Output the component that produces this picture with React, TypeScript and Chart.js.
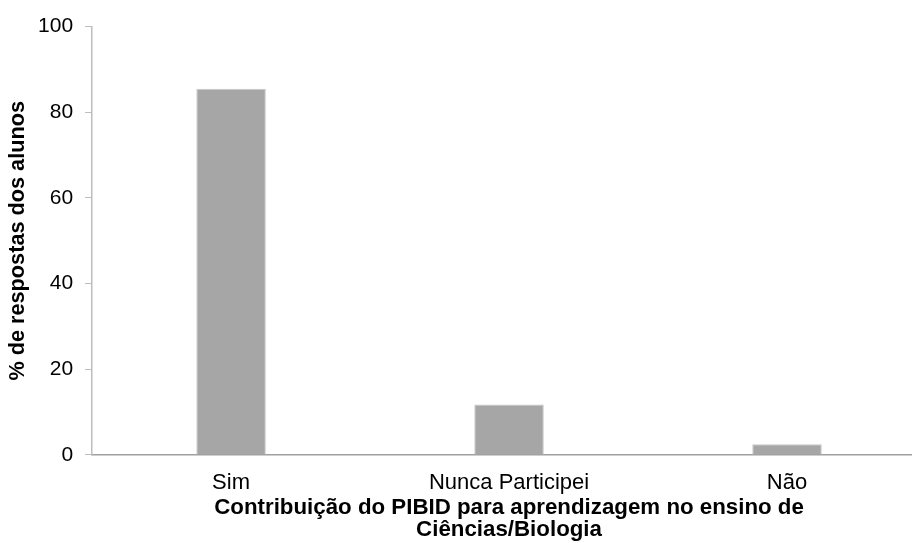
import React, { useEffect, useRef } from "react";
import { Chart, registerables } from "chart.js";

Chart.register(...registerables);

const categories = ["Sim", "Nunca Participei", "Não"];
const values = [85.5, 11.8, 2.5];
const yTicks = [0, 20, 40, 60, 80, 100];
const yTitle = "% de respostas dos alunos";
const xTitle = ["Contribuição do PIBID para aprendizagem no ensino de", "Ciências/Biologia"];

const adjustArea = {
  id: "adjustArea",
  afterLayout(chart: any) {
    const extraRight = 14;
    const extraTop = 2;
    const x = chart.scales.x;
    x.right += extraRight;
    x.width += extraRight;
    x.configure();
    const y = chart.scales.y;
    y.top += extraTop;
    y.height -= extraTop;
    y.configure();
    chart.chartArea.right += extraRight;
    chart.chartArea.width += extraRight;
    chart.chartArea.top += extraTop;
    chart.chartArea.height -= extraTop;
  },
};

export default function App() {
  const ref = useRef<HTMLCanvasElement>(null);
  useEffect(() => {
    if (!ref.current) return;
    const font = "'Liberation Sans', Arial, sans-serif";
    const chart = new Chart(ref.current, {
      type: "bar",
      data: {
        labels: categories,
        datasets: [
          {
            data: values,
            backgroundColor: "#a6a6a6",
            borderColor: "#c8c8c8",
            borderWidth: 1,
            barPercentage: 0.25,
            categoryPercentage: 1,
          },
        ],
      },
      plugins: [adjustArea],
      options: {
        animation: false,
        responsive: false,
        maintainAspectRatio: false,
        layout: { padding: { top: 19, left: 4, right: 0, bottom: 2 } },
        plugins: { legend: { display: false }, tooltip: { enabled: false } },
        scales: {
          x: {
            grid: { display: true, drawOnChartArea: false, drawTicks: false },
            border: { display: true, color: "#a0a0a0", width: 1.5 },
            ticks: { color: "#000", font: { family: font, size: 22, lineHeight: 0.6 }, padding: 21 },
            title: {
              display: true,
              text: xTitle,
              color: "#000",
              font: { family: font, size: 22.3, weight: "bold", lineHeight: 0.987 },
              padding: { top: -13.2, bottom: 0 },
            },
          },
          y: {
            min: 0,
            max: 100,
            afterBuildTicks: (s: any) => {
              s.ticks = yTicks.map((v) => ({ value: v }));
            },
            grid: { display: true, drawOnChartArea: false, drawTicks: true, tickLength: 7, color: "#bdbdbd" },
            border: { display: true, color: "#bdbdbd", width: 1.5 },
            ticks: { color: "#000", font: { family: font, size: 21, lineHeight: 1.2 }, padding: 12 },
            title: {
              display: true,
              text: yTitle,
              color: "#000",
              font: { family: font, size: 21.7, weight: "bold", lineHeight: 1.2 },
              padding: { top: 1, bottom: -5 },
            },
          },
        },
      },
    });
    return () => chart.destroy();
  }, []);
  return (
    <div style={{ position: "fixed", left: 0, top: 0, width: 912, height: 543, overflow: "hidden" }}>
      <canvas ref={ref} width={912} height={543} style={{ display: "block" }} />
    </div>
  );
}
